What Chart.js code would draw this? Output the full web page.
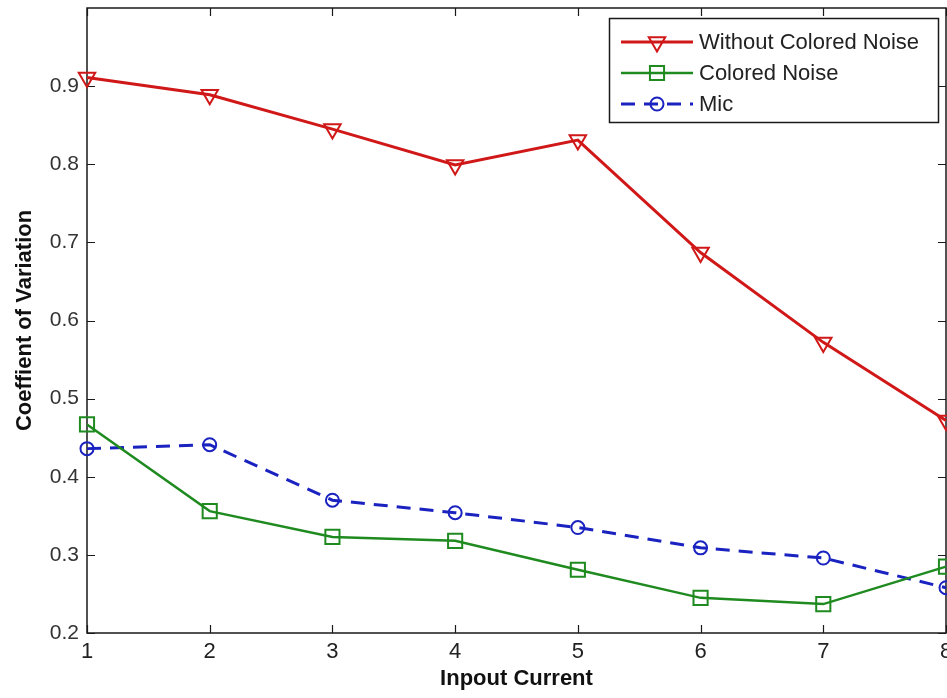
<!DOCTYPE html>
<html>
<head>
<meta charset="utf-8">
<script src="https://cdn.jsdelivr.net/npm/chart.js@4.4.1/dist/chart.umd.min.js"></script>
<style>
  html, body { margin: 0; padding: 0; background: #fff; }
  #wrap { width: 947px; height: 698px; }
</style>
</head>
<body>
<div id="wrap"><canvas id="myChart" width="947" height="698"></canvas></div>
<script>
// data
var currents = [1, 2, 3, 4, 5, 6, 7, 8];
var withoutNoise = [0.911, 0.889, 0.845, 0.799, 0.831, 0.687, 0.572, 0.472];
var coloredNoise = [0.467, 0.356, 0.323, 0.318, 0.281, 0.245, 0.237, 0.285];
var mic = [0.436, 0.441, 0.370, 0.354, 0.335, 0.309, 0.296, 0.258];
var yTicks = [0.2, 0.3, 0.4, 0.5, 0.6, 0.7, 0.8, 0.9];

var RED = '#d01818', GREEN = '#1f8a1f', BLUE = '#1a22c0';

function pts(vals) {
    return currents.map(function(x, i) { return {x: x, y: vals[i]}; });
}

// matlab-ish box with inward ticks + legend
var boxPlugin = {
    id: 'box',
    beforeDatasetsDraw: function(chart) {
        var ctx = chart.ctx, a = chart.chartArea;
        var xs = chart.scales.x, ys = chart.scales.y;
        ctx.save();
        ctx.strokeStyle = '#1a1a1a';
        ctx.lineWidth = 1.5;
        ctx.strokeRect(a.left, a.top, a.right - a.left, a.bottom - a.top);
        ctx.lineWidth = 1.2;
        ctx.beginPath();
        currents.forEach(function(v) {
            var px = Math.round(xs.getPixelForValue(v)) + 0.5;
            ctx.moveTo(px, a.bottom); ctx.lineTo(px, a.bottom - 8);
            ctx.moveTo(px, a.top); ctx.lineTo(px, a.top + 8);
        });
        yTicks.forEach(function(v) {
            var py = Math.round(ys.getPixelForValue(v)) + 0.5;
            ctx.moveTo(a.left, py); ctx.lineTo(a.left + 8, py);
            ctx.moveTo(a.right, py); ctx.lineTo(a.right - 8, py);
        });
        ctx.stroke();
        ctx.restore();
    },
    afterDraw: function(chart) {
        var ctx = chart.ctx;
        var lx = 609, ly = 18, lw = 329, lh = 104;
        ctx.save();
        ctx.fillStyle = '#fff';
        ctx.fillRect(lx, ly, lw, lh);
        ctx.strokeStyle = '#1a1a1a';
        ctx.lineWidth = 1.5;
        ctx.strokeRect(lx + 0.5, ly + 0.5, lw, lh);
        ctx.font = '22px "Liberation Sans", Arial, sans-serif';
        ctx.textBaseline = 'middle';
        chart.data.datasets.forEach(function(ds, i) {
            var y = 42 + i * 31;
            ctx.strokeStyle = ds.borderColor;
            ctx.lineWidth = ds.borderWidth;
            ctx.setLineDash(ds.borderDash || []);
            ctx.beginPath();
            ctx.moveTo(621, y); ctx.lineTo(693, y);
            ctx.stroke();
            ctx.setLineDash([]);
            ctx.lineWidth = ds.pointBorderWidth;
            ctx.fillStyle = 'rgba(0,0,0,0)';
            Chart.helpers.drawPoint(ctx, {
                pointStyle: ds.pointStyle,
                rotation: ds.pointRotation || 0,
                radius: ds.pointRadius,
                borderWidth: ds.pointBorderWidth
            }, 657, y);
            ctx.fillStyle = '#222';
            ctx.fillText(ds.label, 699, y + 1);
        });
        ctx.restore();
    }
};

var ctx = document.getElementById('myChart').getContext('2d');
var myChart = new Chart(ctx, {
    type: 'line',
    data: {
        datasets: [{
            label: 'Without Colored Noise',
            data: pts(withoutNoise),
            borderColor: RED,
            backgroundColor: 'rgba(0,0,0,0)',
            borderWidth: 3,
            pointStyle: 'triangle',
            pointRotation: 180,
            pointRadius: 9.5,
            pointBorderWidth: 2,
            pointBorderColor: RED,
            pointBackgroundColor: 'rgba(0,0,0,0)'
        }, {
            label: 'Colored Noise',
            data: pts(coloredNoise),
            borderColor: GREEN,
            backgroundColor: 'rgba(0,0,0,0)',
            borderWidth: 2.5,
            pointStyle: 'rect',
            pointRadius: 10,
            pointBorderWidth: 2,
            pointBorderColor: GREEN,
            pointBackgroundColor: 'rgba(0,0,0,0)'
        }, {
            label: 'Mic',
            data: pts(mic),
            borderColor: BLUE,
            backgroundColor: 'rgba(0,0,0,0)',
            borderWidth: 3,
            borderDash: [14, 9],
            pointStyle: 'circle',
            pointRadius: 6.5,
            pointBorderWidth: 2,
            pointBorderColor: BLUE,
            pointBackgroundColor: 'rgba(0,0,0,0)'
        }]
    },
    options: {
        responsive: false,
        animation: false,
        clip: false,
        layout: { autoPadding: false, padding: { top: 8, right: 1, left: 0, bottom: 0 } },
        plugins: {
            legend: { display: false },
            tooltip: { enabled: false }
        },
        elements: { line: { tension: 0 } },
        scales: {
            x: {
                type: 'linear',
                min: 1,
                max: 8,
                grid: { display: false, drawTicks: false },
                border: { display: false },
                ticks: {
                    stepSize: 1,
                    padding: 6,
                    color: '#222',
                    maxRotation: 0,
                    font: { family: '"Liberation Sans", Arial', size: 22 }
                },
                title: {
                    display: true,
                    text: 'Inpout Current',
                    color: '#111',
                    padding: { top: 0, bottom: 6 },
                    font: { family: '"Liberation Sans", Arial', size: 22, weight: 'bold' }
                },
                afterFit: function(s) { s.height = 65; s.paddingLeft = 0; s.paddingRight = 0; }
            },
            y: {
                min: 0.2,
                max: 1.0,
                grid: { display: false, drawTicks: false },
                border: { display: false },
                ticks: {
                    stepSize: 0.1,
                    padding: 8,
                    color: '#333',
                    font: { family: '"Liberation Sans", Arial', size: 21 },
                    callback: function(v) { return v > 0.95 ? '' : v.toFixed(1); }
                },
                title: {
                    display: true,
                    text: 'Coeffient of Variation',
                    color: '#111',
                    padding: { top: 12, bottom: 0 },
                    font: { family: '"Liberation Sans", Arial', size: 22, weight: 'bold' }
                },
                afterFit: function(s) { s.width = 87; s.paddingTop = 0; s.paddingBottom = 0; }
            }
        }
    },
    plugins: [boxPlugin]
});
</script>
</body>
</html>
